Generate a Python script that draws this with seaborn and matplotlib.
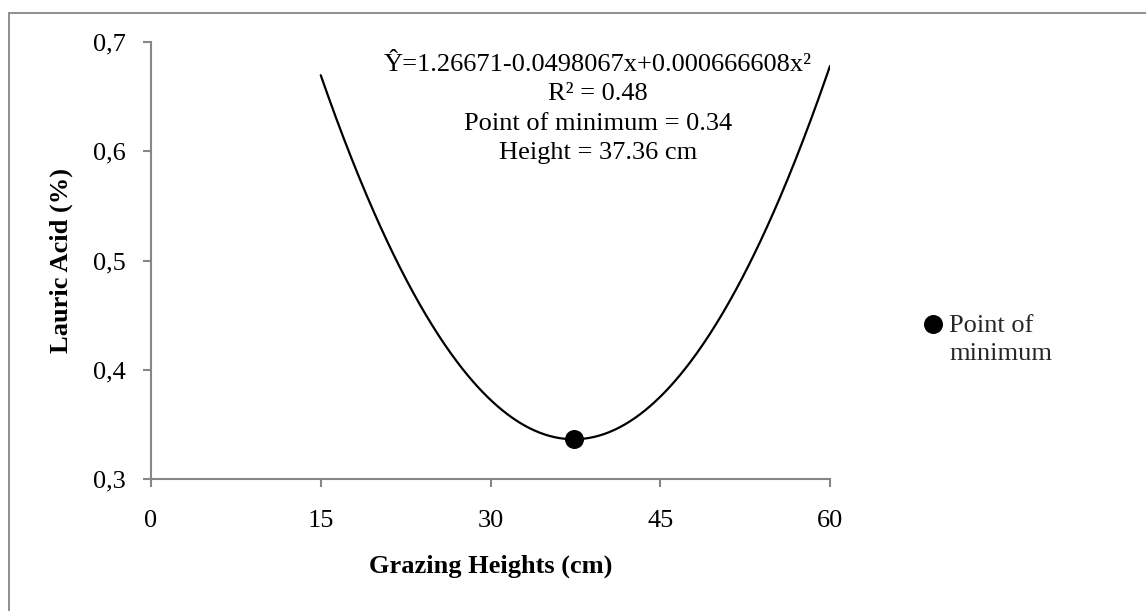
import numpy as np
import pandas as pd
import matplotlib
matplotlib.use("Agg")
import matplotlib.pyplot as plt
from matplotlib.patches import Rectangle
import seaborn as sns

# Fitted quadratic response: Y = b0 + b1*x + b2*x^2
coefficients = [1.26671, -0.0498067, 0.000666608]
r_squared = 0.48
height_range = [15, 60]

x_ticks = [0, 15, 30, 45, 60]
x_tick_labels = ["0", "15", "30", "45", "60"]
y_ticks = [0.3, 0.4, 0.5, 0.6, 0.7]
y_tick_labels = ["0,3", "0,4", "0,5", "0,6", "0,7"]

sns.set_theme(style="white")
plt.rcParams["font.family"] = ["Liberation Serif", "DejaVu Serif"]

b0, b1, b2 = coefficients
x_min = -b1 / (2 * b2)
y_min = b0 + b1 * x_min + b2 * x_min ** 2

xs = np.linspace(height_range[0], height_range[1], 400)
curve = pd.DataFrame({"height": xs, "lauric": b0 + b1 * xs + b2 * xs ** 2})
vertex = pd.DataFrame({"height": [x_min], "lauric": [y_min]})

W, H = 1146, 611
FS = 19
GRAY = "#868686"

fig = plt.figure(figsize=(W / 100, H / 100), dpi=100)
fig.patch.set_facecolor("white")
ax = fig.add_axes([151 / W, 1 - 479 / H, (830 - 151) / W, (479 - 42) / H])

sns.lineplot(data=curve, x="height", y="lauric", color="black", lw=1.6, ax=ax)
sns.scatterplot(data=vertex, x="height", y="lauric", color="black", s=160,
                edgecolor="black", zorder=5, ax=ax, label="Point of\nminimum")

ax.set_xlim(0, 60)
ax.set_ylim(0.3, 0.7)
ax.set_xticks(x_ticks)
ax.set_xticklabels(x_tick_labels)
ax.set_yticks(y_ticks)
ax.set_yticklabels(y_tick_labels)

for side in ["top", "right"]:
    ax.spines[side].set_visible(False)
for side in ["left", "bottom"]:
    ax.spines[side].set_color(GRAY)
    ax.spines[side].set_linewidth(1.5)

ax.tick_params(axis="both", which="major", direction="out", length=5.5, width=1.5,
               color=GRAY, labelsize=FS, labelcolor="black")
ax.tick_params(axis="y", pad=12.5)
ax.tick_params(axis="x", pad=17)
ax.tick_params(left=True, bottom=True)

ax.set_xlabel("Grazing Heights (cm)", fontsize=FS, fontweight="bold", color="black")
ax.set_ylabel("Lauric Acid (%)", fontsize=FS, fontweight="bold", color="black")
ax.xaxis.label.set_va("center")
ax.yaxis.label.set_va("center")
ax.xaxis.set_label_coords(0.5, (479 - 566) / 437)
ax.yaxis.set_label_coords((61 - 151) / 679, 0.5)

equation = (f"Ŷ={b0:.5f}{b1:.7f}x+{b2:.9f}x²\n"
            f"R² = {r_squared:.2f}\n"
            f"Point of minimum = {y_min:.2f}\n"
            f"Height = {x_min:.2f} cm")
fig.text(598 / W, 1 - 54 / H, equation, ha="center", va="top", fontsize=FS,
         linespacing=1.43, color="black")

ax.legend(loc="center left", bbox_to_anchor=(907 / W, 1 - 340 / H),
          bbox_transform=fig.transFigure, frameon=False, fontsize=FS,
          handletextpad=0.1, borderpad=0, handlelength=1.0, scatterpoints=1,
          scatteryoffsets=[1.35], labelspacing=0.3)
for t in ax.get_legend().get_texts():
    t.set_linespacing(1.3)

# outer chart frame
fig.add_artist(Rectangle((9 / W, -0.5), 2.0, 1.5 - 13 / H, transform=fig.transFigure,
                         fill=False, edgecolor=GRAY, lw=1.3))

fig.savefig("out.png", dpi=100, facecolor="white")
